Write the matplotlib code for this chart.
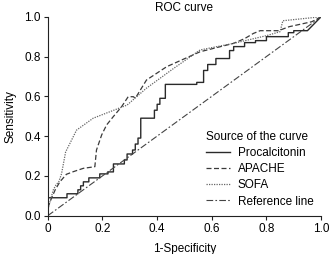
import numpy as np
import matplotlib
matplotlib.use("Agg")
import matplotlib.pyplot as plt

plt.rcParams['font.family'] = ['Liberation Sans', 'DejaVu Sans']
plt.rcParams['font.size'] = 8.5

# ROC vertices
proc_fpr = [0.00, 0.07, 0.07, 0.11, 0.11, 0.12, 0.12, 0.13, 0.13, 0.15, 0.15, 0.19, 0.19,
            0.22, 0.22, 0.24, 0.24, 0.28, 0.28, 0.29, 0.29, 0.31, 0.31, 0.32, 0.32, 0.33,
            0.33, 0.34, 0.34, 0.39, 0.39, 0.40, 0.40, 0.41, 0.41, 0.43, 0.43, 0.545, 0.545,
            0.57, 0.57, 0.585, 0.585, 0.615, 0.615, 0.665, 0.665, 0.68, 0.68, 0.72, 0.72,
            0.76, 0.76, 0.80, 0.80, 0.88, 0.88, 0.90, 0.90, 0.95, 1.00]
proc_tpr = [0.09, 0.09, 0.11, 0.11, 0.13, 0.13, 0.15, 0.15, 0.17, 0.17, 0.19, 0.19, 0.21,
            0.21, 0.22, 0.22, 0.26, 0.26, 0.28, 0.28, 0.31, 0.31, 0.33, 0.33, 0.36, 0.36,
            0.39, 0.39, 0.49, 0.49, 0.53, 0.53, 0.56, 0.56, 0.59, 0.59, 0.66, 0.66, 0.67,
            0.67, 0.73, 0.73, 0.76, 0.76, 0.79, 0.79, 0.83, 0.83, 0.85, 0.85, 0.87, 0.87,
            0.88, 0.88, 0.90, 0.90, 0.92, 0.92, 0.93, 0.93, 1.00]

apache_fpr = [0.00, 0.013, 0.027, 0.044, 0.068, 0.093, 0.13, 0.172, 0.178, 0.197, 0.215,
              0.239, 0.27, 0.294, 0.313, 0.32, 0.361, 0.435, 0.557, 0.679, 0.72, 0.752,
              0.777, 0.844, 0.883, 0.966, 1.00]
apache_tpr = [0.04, 0.087, 0.13, 0.17, 0.208, 0.221, 0.238, 0.246, 0.33, 0.406, 0.456,
              0.497, 0.548, 0.598, 0.598, 0.59, 0.682, 0.749, 0.824, 0.866, 0.89, 0.916,
              0.93, 0.93, 0.95, 0.975, 1.00]

sofa_fpr = [0.00, 0.01, 0.02, 0.03, 0.04, 0.05, 0.065, 0.105, 0.166, 0.29, 0.36, 0.41,
            0.46, 0.557, 0.679, 0.80, 0.85, 0.86, 0.93, 1.00]
sofa_tpr = [0.03, 0.08, 0.13, 0.155, 0.17, 0.21, 0.32, 0.43, 0.49, 0.556, 0.64, 0.69,
            0.74, 0.833, 0.866, 0.905, 0.925, 0.98, 0.99, 1.00]

ref_x = [0.0, 1.0]
ref_y = [0.0, 1.0]

xticks = [0, 0.2, 0.4, 0.6, 0.8, 1.0]
xtick_labels = ['0', '0.2', '0.4', '0.6', '0.8', '1.0']
yticks = [0, 0.2, 0.4, 0.6, 0.8, 1.0]
ytick_labels = ['0.0', '0.2', '0.4', '0.6', '0.8', '1.0']

fig = plt.figure(figsize=(3.3, 2.54), dpi=100)
ax = fig.add_axes([0.145, 0.151, 0.828, 0.783])

ax.plot(proc_fpr, proc_tpr, color='#2a2a2a', lw=1.0, ls='-', label='Procalcitonin')
ax.plot(apache_fpr, apache_tpr, color='#3a3a3a', lw=0.9, ls=(0, (4, 2)), label='APACHE')
ax.plot(sofa_fpr, sofa_tpr, color='#666666', lw=0.9, ls=(0, (1, 1)), label='SOFA')
ax.plot(ref_x, ref_y, color='#444444', lw=0.8, ls=(0, (6, 2, 1.5, 2)), label='Reference line')

ax.set_xlim(0, 1)
ax.set_ylim(0, 1)
ax.set_xticks(xticks)
ax.set_xticklabels(xtick_labels)
ax.set_yticks(yticks)
ax.set_yticklabels(ytick_labels)
ax.spines['top'].set_visible(False)
ax.spines['right'].set_visible(False)
ax.spines['left'].set_color('#222222')
ax.spines['bottom'].set_color('#222222')
ax.tick_params(length=3, width=0.8, color='#222222', pad=2, labelsize=8.5)

ax.set_title('ROC curve', fontsize=8.5, pad=4)
ax.set_xlabel('1-Specificity', fontsize=8.5, labelpad=6)
ax.set_ylabel('Sensitivity', fontsize=8.5, labelpad=6)

leg = ax.legend(title='Source of the curve', loc='upper left',
                bbox_to_anchor=(206 / 330, 1 - 131 / 254), bbox_transform=fig.transFigure,
                frameon=False, fontsize=8.5, title_fontsize=8.5, handlelength=2.0,
                handletextpad=0.7, labelspacing=0.35, borderpad=0, borderaxespad=0)
leg._legend_box.align = 'left'

fig.savefig('out.png', dpi=100)
